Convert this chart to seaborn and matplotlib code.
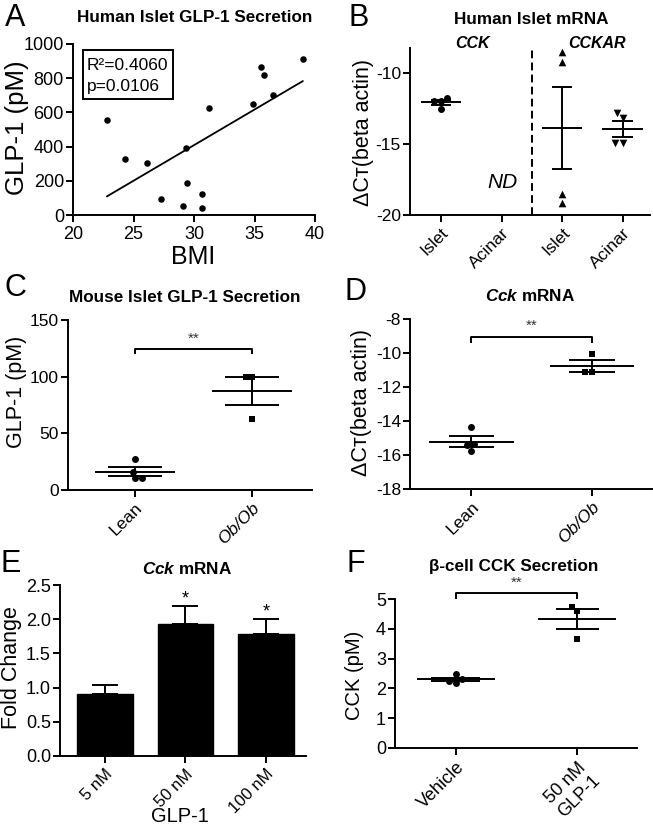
import numpy as np
import pandas as pd
import matplotlib
matplotlib.use("Agg")
import matplotlib.pyplot as plt
from matplotlib.patches import Rectangle
import seaborn as sns

# ---------------- data ----------------
# A: Human islet GLP-1 secretion vs BMI
a_bmi = [22.8, 24.3, 26.1, 27.3, 29.1, 29.3, 29.4, 30.7, 30.7, 31.2, 34.9, 35.5, 35.8, 36.5, 39.0]
a_glp1 = [557, 326, 307, 96, 51, 393, 189, 121, 39, 627, 648, 865, 818, 703, 912]

# B: Human islet mRNA (delta Ct vs beta actin)
b_groups = ["CCK Islet", "CCK Acinar", "CCKAR Islet", "CCKAR Acinar"]
b_ticklabels = ["Islet", "Acinar", "Islet", "Acinar"]
b_cck_islet = [-11.74, -11.97, -11.97, -12.56]
b_cckar_islet = [-8.55, -9.22, -19.13, -18.54]
b_cckar_acinar = [-12.8, -13.2, -14.9, -14.9]

# C: Mouse islet GLP-1 secretion
c_groups = ["Lean", "Ob/Ob"]
c_lean = [27.4, 16.2, 10.3, 10.3]
c_obob = [99.8, 99.8, 62.9]

# D: Cck mRNA
d_groups = ["Lean", "Ob/Ob"]
d_lean = [-14.33, -15.35, -15.41, -15.74]
d_obob = [-10.06, -11.14, -11.10]

# E: Cck mRNA fold change
e_conc = ["5 nM", "50 nM", "100 nM"]
e_fold = [0.91, 1.93, 1.78]
e_err = [0.13, 0.26, 0.22]
e_sig = ["", "*", "*"]

# F: beta-cell CCK secretion
f_groups = ["Vehicle", "50 nM\nGLP-1"]
f_vehicle = [2.47, 2.31, 2.18, 2.24]
f_glp1 = [4.72, 4.61, 3.66]

# ---------------- style ----------------
sns.set_style("ticks", {"axes.edgecolor": "black", "xtick.color": "black",
                        "ytick.color": "black", "text.color": "black",
                        "axes.labelcolor": "black"})
plt.rcParams["font.family"] = ["Liberation Sans", "DejaVu Sans"]
plt.rcParams["axes.unicode_minus"] = False
plt.rcParams["mathtext.fontset"] = "custom"
plt.rcParams["mathtext.rm"] = "Liberation Sans"
plt.rcParams["mathtext.it"] = "Liberation Sans:italic:bold"
plt.rcParams["mathtext.bf"] = "Liberation Sans:bold"

W, H = 653, 831
fig = plt.figure(figsize=(W / 100, H / 100), dpi=100)
LW = 1.4


def add_ax(box):
    l, r, t, b = box
    return fig.add_axes([l / W, 1 - b / H, (r - l) / W, (b - t) / H])


def ftext(px, py, s, **kw):
    fig.text(px / W, 1 - py / H, s, **kw)


def to_ax(box, px, py):
    l, r, t, b = box
    return (px - l) / (r - l), (b - py) / (b - t)


def style(ax, tick_size=12.5):
    sns.despine(ax=ax)
    for s in ("left", "bottom"):
        ax.spines[s].set_linewidth(LW)
    ax.tick_params(axis="both", direction="out", length=5, width=LW,
                   labelsize=tick_size)
    ax.tick_params(axis="y", pad=1.5)
    ax.tick_params(axis="x", pad=2.5)


def set_labels(ax, box, ylabel, ypos, ysize, xlabel=None, xpos=None, xsize=None):
    ax.set_ylabel(ylabel, fontsize=ysize, va="center")
    ax.yaxis.set_label_coords(*to_ax(box, *ypos))
    if xlabel is not None:
        ax.set_xlabel(xlabel, fontsize=xsize, va="center")
        ax.xaxis.set_label_coords(*to_ax(box, *xpos))
    else:
        ax.set_xlabel("")


def mean_sem(ax, pos, vals, mw=0.34, cw=0.2):
    v = np.asarray(vals, dtype=float)
    m = v.mean()
    s = v.std(ddof=1) / np.sqrt(len(v))
    ax.hlines(m, pos - mw, pos + mw, color="black", lw=LW, zorder=4)
    ax.vlines(pos, m - s, m + s, color="black", lw=LW, zorder=4)
    ax.hlines([m - s, m + s], pos - cw, pos + cw, color="black", lw=LW, zorder=4)


def sig_bar(ax, x0, x1, y, ydrop, ytext, size=11):
    ax.plot([x0, x0, x1, x1], [ydrop, y, y, ydrop], color="black", lw=LW,
            clip_on=False, solid_capstyle="butt")
    ax.text((x0 + x1) / 2, ytext, "**", ha="center", va="center",
            fontsize=size, color="#333333", clip_on=False)


def rot_ticks(ax, labels, style_=None, size=None):
    ax.set_xticks(range(len(labels)))
    kw = {}
    if size is not None:
        kw["fontsize"] = size
    ax.set_xticklabels(labels, rotation=45, ha="right", va="top",
                       rotation_mode="anchor", style=style_ or "normal",
                       multialignment="center", **kw)


# ---------------- Panel A ----------------
boxA = (73, 315, 44, 215)
axA = add_ax(boxA)
sns.regplot(x=a_bmi, y=a_glp1, ci=None, color="black", ax=axA,
            scatter_kws=dict(s=22, linewidths=0, alpha=1),
            line_kws=dict(lw=1.3))
axA.set_xlim(20, 40)
axA.set_ylim(0, 1000)
axA.set_xticks(range(20, 41, 5))
axA.set_yticks(range(0, 1001, 200))
style(axA, 13)
axA.tick_params(axis="x", pad=3)
set_labels(axA, boxA, "GLP-1 (pM)", (17, 128), 18.5, "BMI", (193, 257), 18)
rx, ry = to_ax(boxA, 83, 99)
rx2, ry2 = to_ax(boxA, 173, 50)
axA.add_patch(Rectangle((rx, ry), rx2 - rx, ry2 - ry, transform=axA.transAxes,
                        fill=False, lw=LW, ec="black", clip_on=False))
axA.text(*to_ax(boxA, 87, 66), "R²=0.4060", transform=axA.transAxes,
         ha="left", va="center", fontsize=12.5)
axA.text(*to_ax(boxA, 87, 86), "p=0.0106", transform=axA.transAxes,
         ha="left", va="center", fontsize=12.5)

# ---------------- Panel B ----------------
boxB = (410, 650, 48, 215)
axB = add_ax(boxB)
b_sets = [(b_groups[0], b_cck_islet, "o", 5),
          (b_groups[2], b_cckar_islet, "^", 5.5),
          (b_groups[3], b_cckar_acinar, "v", 5.5)]
for g, vals, mk, sz in b_sets:
    df = pd.DataFrame({"group": [g] * len(vals), "value": vals})
    sns.swarmplot(data=df, x="group", y="value", order=b_groups, marker=mk,
                  color="black", size=sz, ax=axB)
for g, vals, mk, sz in b_sets:
    mean_sem(axB, b_groups.index(g), vals, mw=0.335, cw=0.17)
axB.axvline(1.5, color="black", lw=LW, dashes=(4, 2.2))
axB.set_xlim(-0.51, 3.45)
axB.set_ylim(-20, -8.24)
axB.set_yticks([-20, -15, -10])
style(axB, 12.5)
rot_ticks(axB, b_ticklabels)
set_labels(axB, boxB, "ΔCᴛ(beta actin)", (364, 133), 15.5)
axB.text(1.02, -17.68, "ND", ha="center", va="center", fontsize=15, style="italic")
ftext(472, 43.5, "CCK", ha="center", va="center", fontsize=11.5,
      style="italic", weight="bold")
ftext(597, 43.5, "CCKAR", ha="center", va="center", fontsize=11.5,
      style="italic", weight="bold")

# ---------------- Panel C ----------------
boxC = (68, 312, 320, 490)
axC = add_ax(boxC)
for g, vals, mk, sz in [(c_groups[0], c_lean, "o", 5), (c_groups[1], c_obob, "s", 4.5)]:
    df = pd.DataFrame({"group": [g] * len(vals), "value": vals})
    sns.swarmplot(data=df, x="group", y="value", order=c_groups, marker=mk,
                  color="black", size=sz, ax=axC)
mean_sem(axC, 0, c_lean, mw=0.34, cw=0.23)
mean_sem(axC, 1, c_obob, mw=0.34, cw=0.23)
sig_bar(axC, 0, 1, 124.6, 120.2, 133.5)
axC.set_xlim(-0.57, 1.51)
axC.set_ylim(0, 150)
axC.set_yticks([0, 50, 100, 150])
style(axC, 12.5)
rot_ticks(axC, c_groups, style_="italic")
axC.get_xticklabels()[0].set_style("normal")
set_labels(axC, boxC, "GLP-1 (pM)", (17, 392), 15.5)

# ---------------- Panel D ----------------
boxD = (410, 652, 319, 489)
axD = add_ax(boxD)
for g, vals, mk, sz in [(d_groups[0], d_lean, "o", 5), (d_groups[1], d_obob, "s", 4.5)]:
    df = pd.DataFrame({"group": [g] * len(vals), "value": vals})
    sns.swarmplot(data=df, x="group", y="value", order=d_groups, marker=mk,
                  color="black", size=sz, ax=axD)
mean_sem(axD, 0, d_lean, mw=0.35, cw=0.19)
mean_sem(axD, 1, d_obob, mw=0.35, cw=0.19)
sig_bar(axD, 0, 1, -9.08, -9.42, -8.38)
axD.set_xlim(-0.51, 1.5)
axD.set_ylim(-18, -8)
axD.set_yticks(range(-18, -7, 2))
style(axD, 12.5)
rot_ticks(axD, d_groups, style_="italic")
axD.get_xticklabels()[0].set_style("normal")
set_labels(axD, boxD, "ΔCᴛ(beta actin)", (361, 402), 15.5)

# ---------------- Panel E ----------------
boxE = (60, 306, 585, 756)
axE = add_ax(boxE)
dfE = pd.DataFrame({"conc": e_conc, "fold": e_fold})
sns.barplot(data=dfE, x="conc", y="fold", order=e_conc, color="black",
            saturation=1, width=0.69, errorbar=None, edgecolor="black", ax=axE)
xE = np.arange(len(e_conc))
axE.errorbar(xE, e_fold, yerr=[np.zeros(len(e_err)), e_err], fmt="none",
             ecolor="black", elinewidth=LW, capsize=9.6, capthick=LW)
for x, f, e, s in zip(xE, e_fold, e_err, e_sig):
    if s:
        axE.text(x, f + e + 0.1, s, ha="center", va="center", fontsize=13)
axE.set_xlim(-0.56, 2.5)
axE.set_ylim(0, 2.5)
axE.set_yticks(np.arange(0, 2.51, 0.5))
axE.yaxis.set_major_formatter(matplotlib.ticker.FormatStrFormatter("%.1f"))
style(axE, 13)
rot_ticks(axE, e_conc, size=12)
set_labels(axE, boxE, "Fold Change", (12, 668), 15.5, "GLP-1", (180, 817), 14.5)

# ---------------- Panel F ----------------
boxF = (395, 637, 599, 748)
axF = add_ax(boxF)
for g, vals, mk, sz in [(f_groups[0], f_vehicle, "o", 5), (f_groups[1], f_glp1, "s", 4.5)]:
    df = pd.DataFrame({"group": [g] * len(vals), "value": vals})
    sns.swarmplot(data=df, x="group", y="value", order=f_groups, marker=mk,
                  color="black", size=sz, ax=axF)
mean_sem(axF, 0, f_vehicle, mw=0.32, cw=0.2)
mean_sem(axF, 1, f_glp1, mw=0.32, cw=0.175)
sig_bar(axF, 0, 1, 5.19, 5.0, 5.55)
axF.set_xlim(-0.5, 1.49)
axF.set_ylim(0, 5)
axF.set_yticks(range(0, 6))
style(axF, 13)
rot_ticks(axF, f_groups)
set_labels(axF, boxF, "CCK (pM)", (355, 675), 14.5)

# ---------------- titles & panel letters ----------------
tkw = dict(ha="center", va="center", fontsize=12.3, weight="bold")
ftext(195, 18, "Human Islet GLP-1 Secretion", **tkw)
ftext(531, 19, "Human Islet mRNA", **tkw)
ftext(185, 297, "Mouse Islet GLP-1 Secretion", **tkw)
ftext(530, 296, r"$Cck$ mRNA", **tkw)
ftext(187, 569, r"$Cck$ mRNA", **tkw)
ftext(514, 566, "β-cell CCK Secretion", **tkw)

lkw = dict(ha="center", va="center", fontsize=22)
ftext(15, 17.5, "A", **lkw)
ftext(359, 17.5, "B", **lkw)
ftext(15, 288, "C", **lkw)
ftext(356, 292, "D", **lkw)
ftext(11, 564, "E", **lkw)
ftext(356, 564, "F", **lkw)

fig.savefig("out.png", dpi=100)
